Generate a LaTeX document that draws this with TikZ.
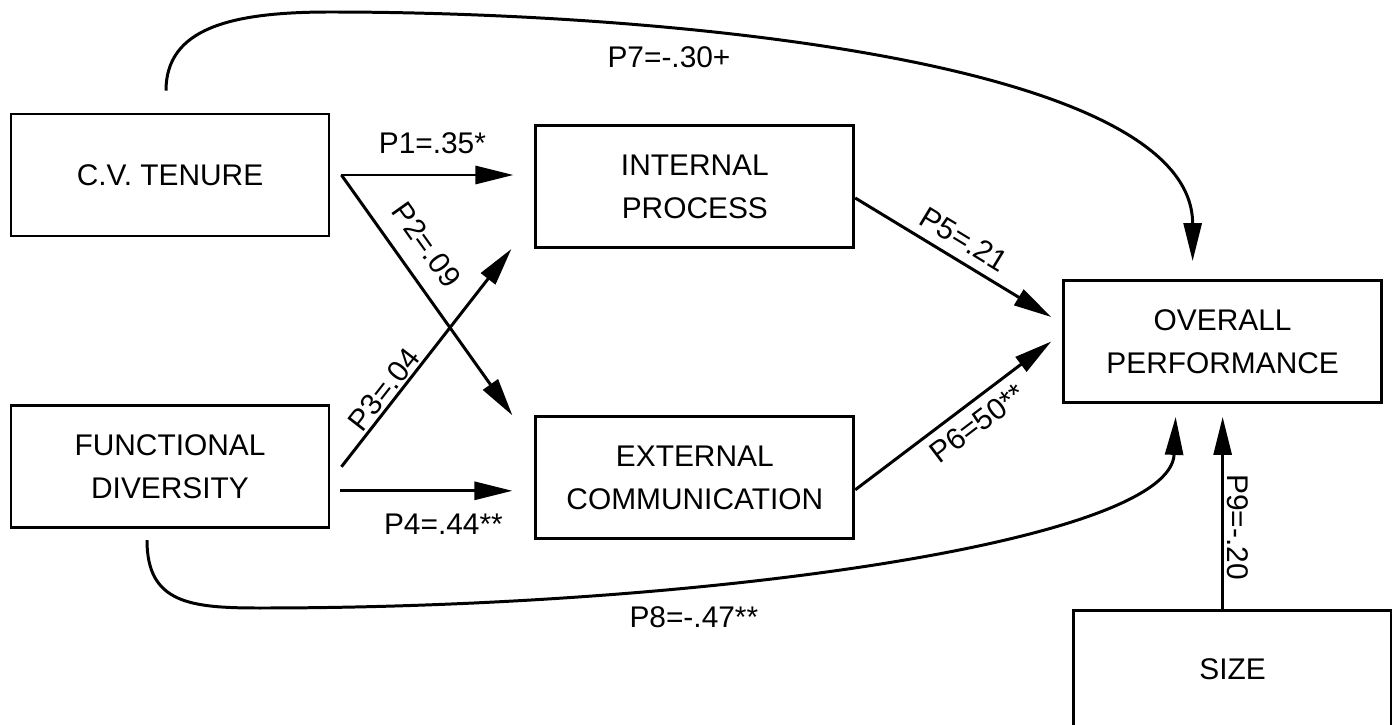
\documentclass[tikz,border=0pt]{standalone}
\usepackage{fontspec}
\setmainfont{Liberation Sans}
\usetikzlibrary{arrows.meta,positioning,calc}

\begin{document}
\begin{tikzpicture}[
  varbox/.style={rectangle, draw=black, line width=1.6pt, minimum width=6.36cm, minimum height=2.44cm, align=center, font=\fontsize{17}{24.5}\selectfont},
  link/.style={-{Triangle[length=7.6mm,width=3.6mm]}, line width=1.7pt},
  coef/.style={font=\fontsize{17}{20}\selectfont}
]
\useasboundingbox (0,0) rectangle (27.84,-14.5);
\node[varbox] (tenure) at (3.40,-3.50) {C.V. TENURE};
\node[varbox, right=4.08cm of tenure, yshift=-0.23cm] (internal) {INTERNAL\\PROCESS};
\node[varbox, below=3.34cm of tenure] (diversity) {FUNCTIONAL\\DIVERSITY};
\node[varbox, right=4.08cm of diversity, yshift=-0.22cm] (external) {EXTERNAL\\COMMUNICATION};
\node[varbox, right=4.14cm of internal, yshift=-3.10cm] (overall) {OVERALL\\PERFORMANCE};
\node[varbox, minimum height=2.34cm, below=4.10cm of overall, xshift=0.2cm] (size) {SIZE};
% free ends of the paths
\coordinate (p2s) at ($(tenure.east)+(0.22,0)$);
\coordinate (p2e) at ($(external.north west)+(-0.44,0)$);
\coordinate (p3s) at ($(diversity.east)+(0.22,0)$);
\coordinate (p3e) at ($(internal.south west)+(-0.46,0)$);
\coordinate (p4s) at ($(diversity.east)+(0,-0.48)$);
\coordinate (p5s) at ($(internal.east)+(0,-0.23)$);
\coordinate (p5e) at ($(overall.west)+(-0.22,0.49)$);
\coordinate (p6s) at ($(external.east)+(0,-0.24)$);
\coordinate (p6e) at ($(overall.west)+(-0.22,0)$);
\coordinate (p7s) at ($(tenure.north)+(-0.08,0.44)$);
\coordinate (p7top) at (6.6,-0.24);
\coordinate (p7e) at ($(overall.north)+(-0.60,0.36)$);
\coordinate (p8s) at ($(diversity.south)+(-0.46,-0.22)$);
\coordinate (p8low) at (5.2,-12.16);
\coordinate (p8e) at ($(overall.south)+(-0.94,-0.26)$);
% direct paths
\draw[link, shorten <=0.22cm, shorten >=0.42cm] (tenure.east) -- node[coef, above=0.28cm] {P1=.35*} (tenure.east -| internal.west);
\draw[link] (p2s) -- node[coef, sloped, above=0.22cm, pos=0.36] {P2=.09} (p2e);
\draw[link] (p3s) -- node[coef, sloped, above=-0.08cm, pos=0.315] {P3=.04} (p3e);
\draw[link, shorten <=0.2cm, shorten >=0.44cm] (p4s) -- node[coef, below=0.32cm, xshift=0.22cm] {P4=.44**} (p4s -| external.west);
\draw[link] (p5s) -- node[coef, sloped, above=0.06cm, pos=0.5] {P5=.21} (p5e);
\draw[link] (p6s) -- node[coef, sloped, below=0.06cm, pos=0.56] {P6=50**} (p6e);
% curved paths
\draw[link] (p7s) .. controls ($(p7s)+(0,1.24)$) and (4.6,-0.24) .. (p7top)
  .. controls (13.0,-0.24) and ($(p7e)+(0,4.06)$) .. node[coef, pos=0.31, below=0.22cm] {P7=-.30+} (p7e);
\draw[link] (p8s) .. controls ($(p8s)+(0,-1.26)$) and (3.8,-12.16) .. (p8low)
  .. controls (14.0,-12.16) and ($(p8e)+(-0.1,-2.5)$) .. node[coef, pos=0.335, below=0.26cm] {P8=-.47**} (p8e);
\draw[link, shorten >=0.26cm] (size.north -| overall.south) -- node[coef, pos=0.4, rotate=-90, anchor=south, inner sep=1.8pt] {P9=-.20} (overall.south);
\end{tikzpicture}
\end{document}
